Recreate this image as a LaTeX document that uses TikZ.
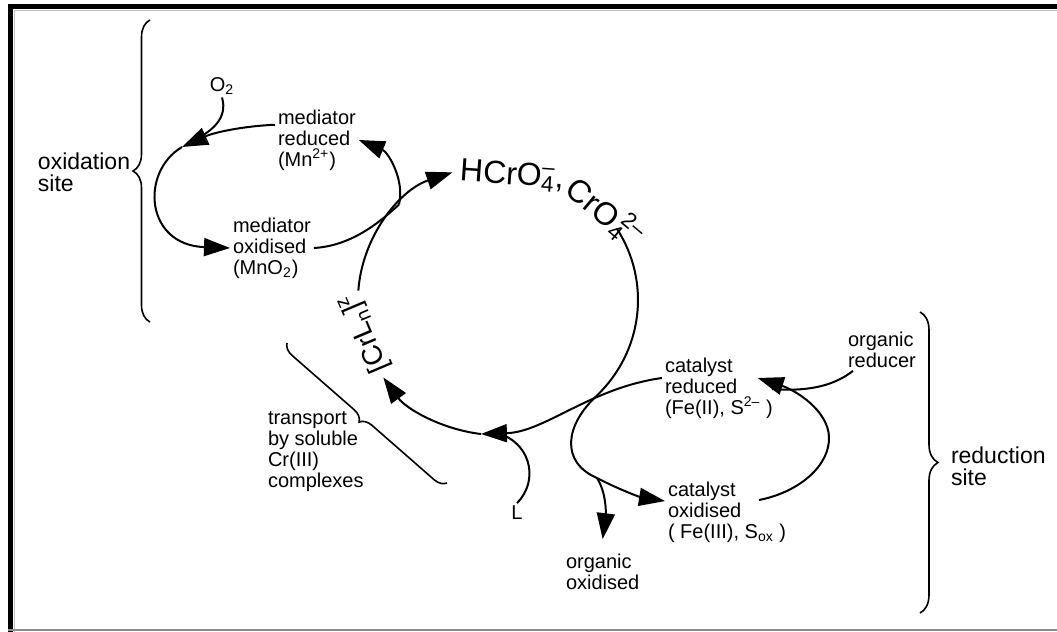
\documentclass[tikz,border=0pt]{standalone}
\usepackage{fontspec}
\setmainfont{Liberation Sans}
\usetikzlibrary{arrows.meta,decorations.pathreplacing,calc}

\begin{document}
\begin{tikzpicture}[x=0.5pt, y=-0.5pt, line width=1pt,
	pfeil/.style={-{Triangle[length=13pt,width=9pt]}},
	klammer/.style={decorate, decoration={brace, amplitude=#1}, line width=0.8pt},
	etikett/.style={font=\fontsize{10}{10.5}\selectfont, align=left, anchor=west, inner sep=1pt},
	ort/.style={font=\fontsize{11.5}{11}\selectfont, align=left, anchor=west, inner sep=1pt},
	ion/.style={font=\fontsize{16}{18}\selectfont, inner sep=0pt}]
	\useasboundingbox (0,0) rectangle (1057,632);
	\def\rx{140}
	\def\ry{135}
	% Rahmen
	\fill[black] (8,4) rectangle (13,632);
	\fill[black] (8,4) rectangle (1057,9);
	\draw[black!25, line width=0.5pt] (14,632) -- (14,10) -- (1057,10);
	\draw[black!45, line width=1pt] (8,630) -- (1057,630);

	% Beschriftungen
	\node[ort] (oxsite) at (35,172) {oxidation\\site};
	\node[ort] (redsite) at (948,466) {reduction\\site};
	\node[etikett, anchor=center] (o2) at (222,86) {O\textsubscript{2}};
	\node[etikett] (medred) at (275,140) {mediator\\reduced\\(Mn\textsuperscript{2+})};
	\node[etikett] (medox) at (230,248) {mediator\\oxidised\\(MnO\textsubscript{2})};
	\node[ion, rotate=-4] (hcro) at (512,176) {HCrO\rlap{\textsubscript{4}}\textsuperscript{--},};
	\node[ion, rotate=-40] (cro) at (605,212) {CrO\rlap{\textsubscript{4}}\textsuperscript{\,2--}};
	\node[font=\fontsize{14}{16}\selectfont, rotate=113, inner sep=0pt] (crl) at (365,333) {[CrL\textsubscript{n}]\textsuperscript{z}};
	\node[etikett] (transport) at (265,452) {transport\\by soluble\\Cr(III)\\complexes};
	\node[etikett, anchor=center] (l) at (517,513) {L};
	\node[etikett] (catred) at (662,388) {catalyst\\reduced\\(Fe(II), S\textsuperscript{2--} )};
	\node[etikett] (catox) at (665,512) {catalyst\\oxidised\\( Fe(III), S\textsubscript{ox} )};
	\node[etikett] (orgox) at (563,572) {organic\\oxidised};
	\node[etikett] (orgred) at (845,350) {organic\\reducer};

	% Klammern
	\draw[klammer=8.5pt] (150,322) -- (150,20);
	\draw[klammer=9pt] (920,312) -- (920,613);
	\draw[klammer=6pt] (447,483) -- (287,343);

	% Chromkreis
	\coordinate (m) at (498,300);
	\coordinate (k1) at ($(m)+(-32:140 and 135)$);
	\coordinate (k2) at ($(m)+(225:140 and 135)$);
	\coordinate (k4) at ($(m)+(97:140 and 135)$);
	\coordinate (k5) at ($(m)+(184:140 and 135)$);
	\coordinate (kl) at ($(m)+(88:140 and 135)$);
	\coordinate (j4) at (597,478);
	\draw (k1) arc[start angle=-32, end angle=45, x radius=\rx, y radius=\ry]
		.. controls (565,425) and (560,462) .. (j4);
	\draw[pfeil] (j4) .. controls (620,490) and (640,497) .. (catox.170);
	\draw[pfeil] (j4) .. controls (606,492) and (606,512) .. ([yshift=6pt]orgox.north);
	\draw[pfeil] (catred.170) .. controls (590,388) and (545,432) .. (k4);
	\draw[pfeil] (k4) arc[start angle=97, end angle=145, x radius=\rx, y radius=\ry];
	\draw (l.north) .. controls (538,482) and (532,447) .. (kl);
	\draw[pfeil] (k5) arc[start angle=184, end angle=251, x radius=\rx, y radius=\ry];

	% Mediator
	\coordinate (j1) at (182,147);
	\coordinate (jo) at (200,137);
	\draw (o2.south) .. controls (228,118) and (212,130) .. (jo);
	\draw[pfeil] (medred.160) .. controls (245,126) and (215,132) .. (j1);
	\draw[pfeil] (j1) .. controls (140,172) and (145,245) .. (medox.west);
	\draw (medox.east) .. controls (350,246) and (378,224) .. (k2);
	\draw[pfeil] (k2) .. controls (405,180) and (388,152) .. (medred.east);

	% Katalysator
	\coordinate (re) at (829,437);
	\coordinate (mr) at (772,389);
	\draw[pfeil] ([shift={(-30,-12)}]catox.east) .. controls (800,492) and (830,465) .. (re)
		.. controls (828,410) and (795,390) .. ([shift={(-18,-10)}]catred.east);
	\draw ([xshift=4pt]orgred.south west) .. controls (835,385) and (810,392) .. (mr);
\end{tikzpicture}
\end{document}
